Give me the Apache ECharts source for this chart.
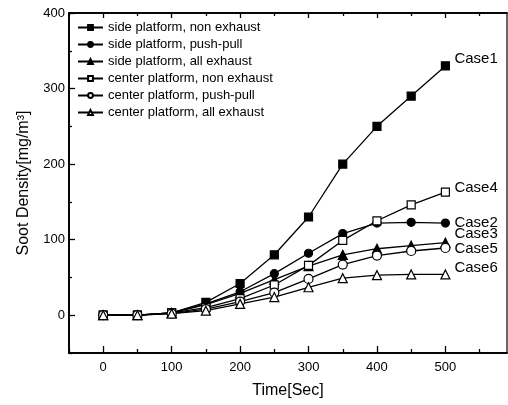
<!DOCTYPE html>
<html><head><meta charset="utf-8">
<script src="https://cdn.jsdelivr.net/npm/echarts@6/dist/echarts.min.js"></script>
<style>html,body{margin:0;padding:0;background:#fff}#c{width:508px;height:405px}</style>
</head><body><div id="c"></div>
<script>
const times = [0, 50, 100, 150, 200, 250, 300, 350, 400, 450, 500];
const case1 = [0, 0, 3, 17, 42, 80, 130, 200, 250, 290, 330];
const case2 = [0, 0, 3, 15, 31, 55, 82, 108, 122, 123, 122];
const case3 = [0, 0, 3, 14, 29, 47, 65, 80, 88, 92, 96];
const case4 = [0, 0, 3, 10, 22, 40, 66, 99, 125, 146, 163];
const case5 = [0, 0, 2, 8, 18, 30, 48, 67, 79, 85, 89];
const case6 = [0, 0, 2, 6, 15, 24, 37, 49, 53, 54, 54];
const names = ['side platform, non exhaust', 'side platform, push-pull', 'side platform, all exhaust',
  'center platform, non exhaust', 'center platform, push-pull', 'center platform, all exhaust'];
const caseLabels = ['Case1', 'Case2', 'Case3', 'Case4', 'Case5', 'Case6'];
const yMajor = [0, 100, 200, 300, 400];
const yMinor = [-50, 50, 150, 250, 350];
const xMajor = [0, 100, 200, 300, 400, 500];
const xMinor = [-50, 50, 150, 250, 350, 450, 550];

const values = [case1, case2, case3, case4, case5, case6];
const symbols = ['rect', 'circle', 'triangle', 'rect', 'circle', 'triangle'];
const filled = [true, true, true, false, false, false];
const sizes = [8, 8, 9, 8, 9, 9];
const labelDy = [-7, 0, -9, -4, 1, -7];
const font = 'Liberation Sans, Arial, sans-serif';

const chart = echarts.init(document.getElementById('c'));
function xAx(pos, major, showLabel, len) {
  return {
    type: 'value', position: pos, min: -50, max: 590,
    axisLine: { show: true, onZero: false, lineStyle: { color: '#000', width: 1.5 } },
    axisTick: { show: true, inside: true, length: len, customValues: major, lineStyle: { color: '#000', width: 1.3 } },
    axisLabel: { show: showLabel, customValues: xMajor, margin: 8, color: '#000', fontSize: 13, fontFamily: font },
    splitLine: { show: false }
  };
}
function yAx(major, showLabel, len, name) {
  return {
    type: 'value', position: 'left', min: -50, max: 400,
    name: name || '', nameLocation: 'middle', nameGap: 37,
    nameTextStyle: { color: '#000', fontSize: 16, fontFamily: font },
    axisLine: { show: true, onZero: false, lineStyle: { color: '#000', width: 1.5 } },
    axisTick: { show: true, inside: true, length: len, customValues: major, lineStyle: { color: '#000', width: 1.3 } },
    axisLabel: { show: showLabel, customValues: yMajor, margin: 4, color: '#000', fontSize: 13, fontFamily: font },
    splitLine: { show: false }
  };
}
const xa0 = xAx('bottom', xMajor, true, 7);
xa0.name = 'Time[Sec]'; xa0.nameLocation = 'middle'; xa0.nameGap = 30;
xa0.nameTextStyle = { color: '#000', fontSize: 16, fontFamily: font };

chart.setOption({
  animation: false,
  backgroundColor: '#fff',
  grid: { left: 69, right: 1, top: 13, bottom: 52, show: true, borderColor: '#000', borderWidth: 1.2 },
  legend: {
    orient: 'vertical', left: 72, top: 16, itemWidth: 25, itemHeight: 6, itemGap: 4,
    textStyle: { color: '#000', fontSize: 13, fontFamily: font },
    data: names
  },
  xAxis: [xa0, xAx('bottom', xMinor, false, 4), xAx('top', xMajor, false, 5), xAx('top', xMinor, false, 3)],
  yAxis: [yAx(yMajor, true, 6, 'Soot Density[mg/m³]'), yAx(yMinor, false, 3)],
  series: values.map((v, i) => ({
    name: names[i], type: 'line', xAxisIndex: 0, yAxisIndex: 0,
    data: times.map((t, j) => [t, v[j]]),
    symbol: symbols[i], symbolSize: sizes[i], showAllSymbol: true,
    lineStyle: { color: '#000', width: 1.3 },
    itemStyle: { color: filled[i] ? '#000' : '#fff', borderColor: '#000', borderWidth: 1.2 },
    endLabel: { show: true, formatter: caseLabels[i], distance: 9, offset: [0, labelDy[i]],
      color: '#000', fontSize: 15, fontFamily: font }
  }))
});
</script></body></html>
